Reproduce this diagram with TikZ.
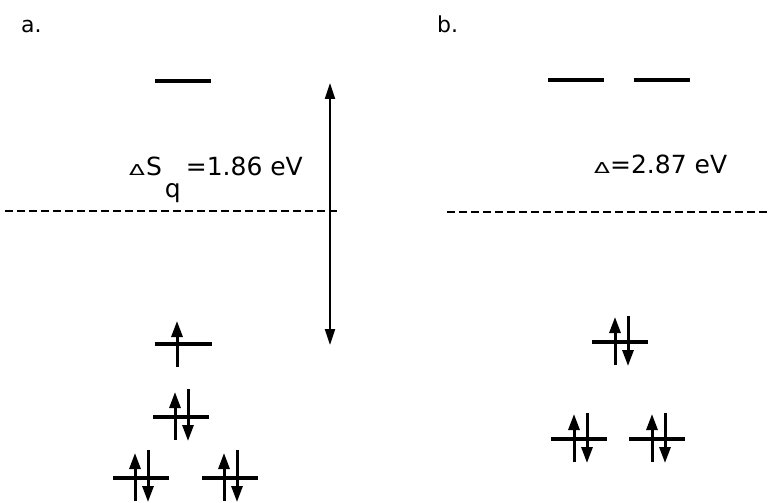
\documentclass[tikz,border=0pt]{standalone}
\usepackage{fontspec}
\setmainfont{DejaVu Sans}
\usetikzlibrary{arrows.meta}
\tikzset{
	orbital/.style={line width=3.2pt},
	spinarrow/.style={line width=3pt, -{Triangle[length=16pt,width=11pt]}},
	gaparrow/.style={line width=2.2pt, {Triangle[length=16pt,width=10pt]}-{Triangle[length=16pt,width=10pt]}},
	vacline/.style={line width=2pt, dash pattern=on 8pt off 4pt},
	lbl/.style={font=\fontsize{25}{29}\selectfont, inner sep=0pt, anchor=base west},
}
\newcommand{\smalldelta}{\scalebox{1.55}[1.0]{\fontsize{15}{15}\selectfont\char"0394}}
\begin{document}
\begin{tikzpicture}[x=1pt, y=-1pt]
	\useasboundingbox (0,0) rectangle (769,503);
	% panel labels
	\node[lbl, font=\fontsize{22}{25}\selectfont] (panela) at (21,33) {a.};
	\node[lbl, font=\fontsize{22}{25}\selectfont] (panelb) at (437,33) {b.};
	% panel a: empty level, vacuum line and the gap
	\draw[orbital] (155,81) -- (211,81);
	\draw[vacline] (5,211) -- (337,211);
	\coordinate (gaptop) at (330,83);
	\coordinate (gapbot) at (330,345);
	\draw[gaparrow] (gaptop) -- (gapbot);
	\node[lbl] (gapa) at (129,175) {\smalldelta\hspace{1pt}S\hspace{3pt}\raisebox{-23pt}{q}\hspace{5pt}=1.86 eV};
	% panel a: filled levels
	\draw[orbital] (155,344) -- (212,344);
	\draw[spinarrow] (177,367) -- (177,321);
	\foreach \x/\y in {153/417, 113/478, 202/478} {
		\draw[orbital] (\x,\y) -- (\x+56,\y);
		\draw[spinarrow] (\x+22,\y+23) -- (\x+22,\y-25);
		\draw[spinarrow] (\x+35,\y-28) -- (\x+35,\y+24);
	}
	% panel b: empty levels, vacuum line
	\draw[orbital] (548,80) -- (604,80);
	\draw[orbital] (634,80) -- (690,80);
	\draw[vacline] (447,212) -- (769,212);
	\node[lbl] (gapb) at (594,173) {\smalldelta=2.87 eV};
	% panel b: filled levels
	\foreach \x/\y in {592/342, 551/439, 629/439} {
		\draw[orbital] (\x,\y) -- (\x+56,\y);
		\draw[spinarrow] (\x+23,\y+23) -- (\x+23,\y-25);
		\draw[spinarrow] (\x+36,\y-26) -- (\x+36,\y+24);
	}
\end{tikzpicture}
\end{document}
